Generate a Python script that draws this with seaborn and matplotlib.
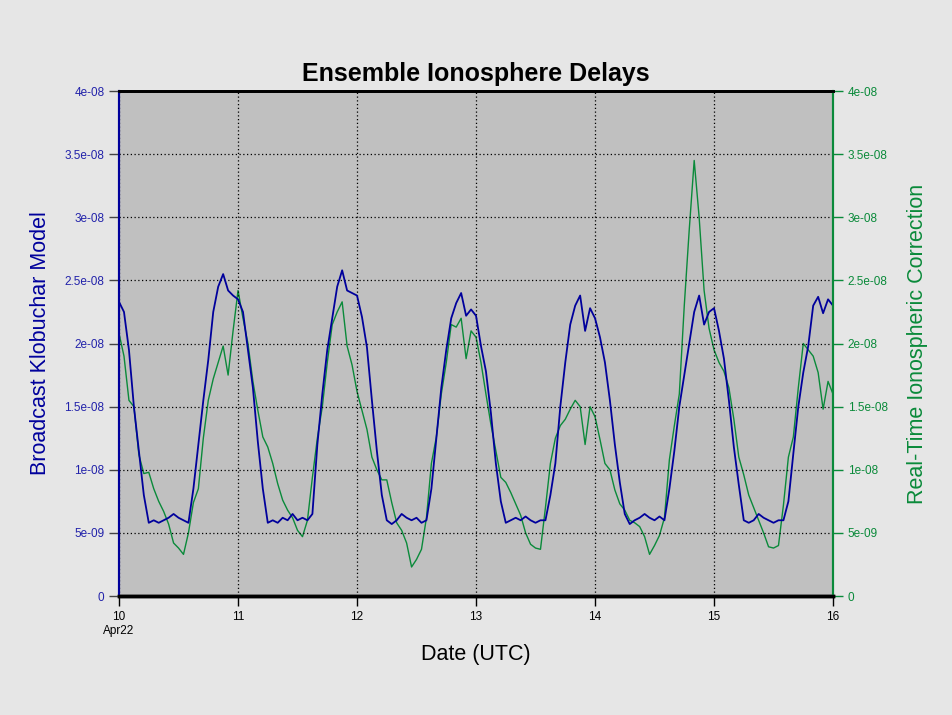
import pandas as pd
import numpy as np
import matplotlib
matplotlib.use('Agg')
import matplotlib.pyplot as plt
import seaborn as sns
from matplotlib.ticker import FuncFormatter, MultipleLocator

# hourly values, units of 1e-8 s
klobuchar_day10 = [2.33, 2.25, 1.95, 1.5, 1.15, 0.8, 0.58, 0.6, 0.58, 0.6, 0.62, 0.65, 0.62, 0.6, 0.58, 0.85, 1.2, 1.55, 1.87, 2.25, 2.45, 2.55, 2.42, 2.38]
klobuchar_day11 = [2.35, 2.25, 1.95, 1.65, 1.22, 0.85, 0.58, 0.6, 0.58, 0.62, 0.6, 0.65, 0.6, 0.62, 0.6, 0.65, 1.2, 1.6, 1.95, 2.2, 2.45, 2.58, 2.42, 2.4]
klobuchar_day12 = [2.38, 2.21, 1.97, 1.55, 1.15, 0.8, 0.6, 0.57, 0.6, 0.65, 0.62, 0.6, 0.62, 0.58, 0.6, 0.85, 1.25, 1.65, 1.95, 2.2, 2.32, 2.4, 2.22, 2.27]
klobuchar_day13 = [2.22, 1.98, 1.78, 1.45, 1.05, 0.75, 0.58, 0.6, 0.62, 0.6, 0.63, 0.6, 0.58, 0.6, 0.6, 0.8, 1.05, 1.5, 1.85, 2.15, 2.3, 2.38, 2.1, 2.28]
klobuchar_day14 = [2.2, 2.05, 1.85, 1.55, 1.2, 0.9, 0.65, 0.57, 0.6, 0.62, 0.65, 0.62, 0.6, 0.63, 0.6, 0.85, 1.15, 1.5, 1.75, 2.0, 2.25, 2.38, 2.15, 2.25]
klobuchar_day15 = [2.28, 2.1, 1.88, 1.55, 1.18, 0.88, 0.6, 0.58, 0.6, 0.65, 0.62, 0.6, 0.58, 0.6, 0.6, 0.75, 1.13, 1.5, 1.77, 1.98, 2.3, 2.37, 2.24, 2.35]
klobuchar_end = [2.3]

rtic_day10 = [2.08, 1.9, 1.55, 1.5, 1.12, 0.97, 0.98, 0.85, 0.75, 0.67, 0.57, 0.42, 0.38, 0.33, 0.5, 0.74, 0.85, 1.25, 1.55, 1.72, 1.85, 1.98, 1.75, 2.1]
rtic_day11 = [2.42, 2.2, 2.0, 1.7, 1.47, 1.26, 1.18, 1.05, 0.89, 0.76, 0.68, 0.62, 0.52, 0.47, 0.6, 0.94, 1.25, 1.5, 1.85, 2.15, 2.25, 2.33, 1.98, 1.83]
rtic_day12 = [1.62, 1.47, 1.32, 1.1, 1.0, 0.92, 0.92, 0.74, 0.58, 0.52, 0.42, 0.23, 0.29, 0.37, 0.62, 1.05, 1.26, 1.6, 1.85, 2.15, 2.13, 2.2, 1.88, 2.1]
rtic_day13 = [2.05, 1.85, 1.6, 1.36, 1.15, 0.94, 0.9, 0.82, 0.73, 0.64, 0.5, 0.41, 0.38, 0.37, 0.7, 1.05, 1.25, 1.35, 1.4, 1.48, 1.55, 1.5, 1.2, 1.5]
rtic_day14 = [1.42, 1.24, 1.05, 1.0, 0.84, 0.73, 0.68, 0.6, 0.58, 0.55, 0.47, 0.33, 0.4, 0.48, 0.62, 1.08, 1.35, 1.6, 2.3, 2.9, 3.45, 3.0, 2.42, 2.12]
rtic_day15 = [1.95, 1.85, 1.78, 1.65, 1.4, 1.1, 0.96, 0.8, 0.7, 0.6, 0.5, 0.39, 0.38, 0.4, 0.72, 1.1, 1.26, 1.65, 2.0, 1.95, 1.9, 1.77, 1.48, 1.7]
rtic_end = [1.6]

day_ticks = ['10\nApr22', '11', '12', '13', '14', '15', '16']

klob = (klobuchar_day10 + klobuchar_day11 + klobuchar_day12 + klobuchar_day13
        + klobuchar_day14 + klobuchar_day15 + klobuchar_end)
rtic = (rtic_day10 + rtic_day11 + rtic_day12 + rtic_day13
        + rtic_day14 + rtic_day15 + rtic_end)

df = pd.DataFrame({
    'Time': pd.date_range('2022-04-10', periods=len(klob), freq='h'),
    'Klobuchar': np.array(klob) * 1e-8,
    'RTIC': np.array(rtic) * 1e-8,
})

BLUE = '#00009c'
GREEN = '#0a8a3a'

sns.set_style('ticks')
plt.rcParams['font.family'] = ['Liberation Sans', 'DejaVu Sans']

fig = plt.figure(figsize=(9.53, 7.15), dpi=100, facecolor='#e6e6e6')
ax = fig.add_axes([0.1249, 0.1664, 0.7492, 0.7063])
ax2 = ax.twinx()

sns.lineplot(data=df, x='Time', y='Klobuchar', ax=ax, color=BLUE, lw=1.3)
sns.lineplot(data=df, x='Time', y='RTIC', ax=ax2, color=GREEN, lw=1.0)
# blue on top of green, grey plot area behind both
ax.set_zorder(ax2.get_zorder() + 1)
ax.patch.set_visible(False)
ax2.patch.set_visible(True)
ax2.patch.set_facecolor('#c0c0c0')

fmt = FuncFormatter(lambda v, p: '%g' % v)
for a in (ax, ax2):
    a.set_ylim(0, 4e-8)
    a.yaxis.set_major_locator(MultipleLocator(5e-9))
    a.yaxis.set_major_formatter(fmt)
    a.set_xlim(df['Time'].iloc[0], df['Time'].iloc[-1])

ticks = pd.date_range('2022-04-10', '2022-04-16', freq='D')
ax.set_xticks(ticks)
ax.set_xticklabels(day_ticks)
ax.grid(True, color='black', linestyle=(0, (1, 2)), linewidth=0.9)
ax2.grid(False)

ax.tick_params(axis='x', colors='black', labelcolor='black', labelsize=8.5, length=7, width=1, pad=4)
ax.tick_params(axis='y', colors='#444444', labelcolor='#2222aa', labelsize=8.5, length=7, width=1)
ax2.tick_params(axis='y', colors=GREEN, labelcolor=GREEN, labelsize=8.5, length=7, width=1)

for a in (ax, ax2):
    for s in a.spines.values():
        s.set_visible(True)
    a.spines['top'].set_color('black')
    a.spines['top'].set_linewidth(2)
    a.spines['bottom'].set_color('black')
    a.spines['bottom'].set_linewidth(2.5)
    a.spines['left'].set_color(BLUE)
    a.spines['left'].set_linewidth(1.5)
    a.spines['right'].set_color(GREEN)
    a.spines['right'].set_linewidth(1.5)

ax.set_title('Ensemble Ionosphere Delays', fontsize=18, fontweight='bold', color='black', pad=7)
ax.set_xlabel('Date (UTC)', fontsize=15.5, color='black', labelpad=5)
ax.set_ylabel('Broadcast Klobuchar Model', fontsize=15.5, color=BLUE, labelpad=10)
ax2.set_ylabel('Real-Time Ionospheric Correction', fontsize=15.5, color=GREEN, labelpad=14)

fig.savefig('out.png', dpi=100, facecolor=fig.get_facecolor())
